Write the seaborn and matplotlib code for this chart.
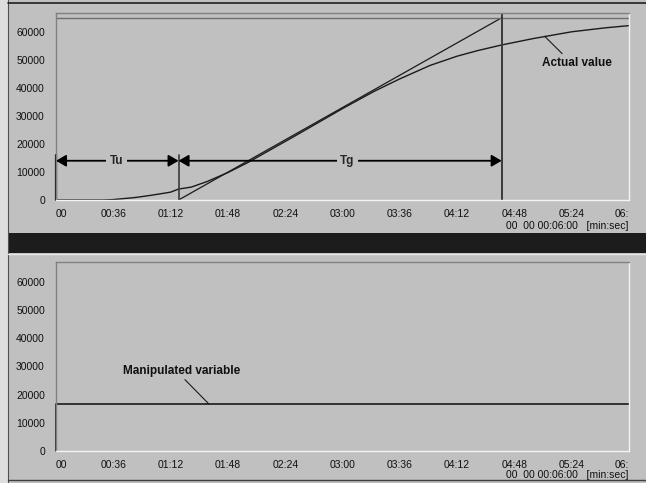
import matplotlib
matplotlib.use("Agg")
import matplotlib.pyplot as plt
from matplotlib.patches import Rectangle
from matplotlib.lines import Line2D
import seaborn as sns
import pandas as pd

# ---------------- data ----------------
time_s = [0, 20, 30, 36, 50, 60, 72, 77, 85, 95, 108, 120, 135, 150, 165, 180,
          200, 216, 235, 252, 265, 280, 300, 324, 345, 360]
actual_value = [0, 0, 0, 150, 900, 1700, 2800, 3900, 4600, 6600, 9800, 13200,
                18000, 22800, 27700, 32600, 38800, 43200, 48000, 51300, 53300,
                55300, 57600, 60000, 61400, 62200]
tangent_t = [77, 280]
tangent_y = [0, 65000]
setpoint = 65000
manip_t = [0, 0, 360]
manip_y = [0, 16700, 16700]
tick_seconds = [0, 36, 72, 108, 144, 180, 216, 252, 288, 324, 360]
tick_labels = ["00", "00:36", "01:12", "01:48", "02:24", "03:00", "03:36",
               "04:12", "04:48", "05:24", "06:"]
y_ticks = [0, 10000, 20000, 30000, 40000, 50000, 60000]
tu_end = 77
tg_end = 280
marker_level = 16000
arrow_level = 14000

# ---------------- style ----------------
BG = "#c0c0c0"
sns.set_theme(style="white")
plt.rcParams["font.family"] = ["Liberation Sans", "DejaVu Sans"]
plt.rcParams["axes.facecolor"] = BG
plt.rcParams["figure.facecolor"] = BG

W, H = 646, 483
fig = plt.figure(figsize=(W / 100, H / 100), dpi=100)


def fx(px):
    return px / W


def fy(py):
    return 1 - py / H


def frame_axes(left, top, right, bottom, ytop):
    ax = fig.add_axes([fx(left), fy(bottom), fx(right - left), (bottom - top) / H])
    ax.set_facecolor(BG)
    ax.set_xlim(0, 360)
    ax.set_ylim(0, ytop)
    for s in ["top", "left"]:
        ax.spines[s].set_color("#808080")
        ax.spines[s].set_linewidth(1.0)
    for s in ["bottom", "right"]:
        ax.spines[s].set_color("#f4f4f4")
        ax.spines[s].set_linewidth(1.0)
    ax.set_xticks(tick_seconds)
    ax.set_xticklabels(tick_labels)
    ax.set_yticks(y_ticks)
    ax.set_yticklabels([str(v) for v in y_ticks])
    ax.tick_params(axis="x", direction="out", length=3, width=0.8, color="#e8e8e8",
                   pad=3.5, labelsize=7.5, labelcolor="#101010")
    ax.tick_params(axis="y", direction="out", length=3, width=0.8, color="#e8e8e8",
                   pad=5, labelsize=7.5, labelcolor="#101010")
    lbls = ax.get_xticklabels()
    lbls[0].set_ha("left")
    lbls[-1].set_ha("right")
    ax.set_xlabel("")
    ax.set_ylabel("")
    return ax


# ---------------- window decorations ----------------
fig.add_artist(Rectangle((0, 0), fx(8), 1, transform=fig.transFigure,
                         facecolor="#dedede", edgecolor="none", zorder=0))
fig.add_artist(Line2D([fx(8), fx(8)], [0, 1], transform=fig.transFigure,
                      color="#505050", lw=0.8))
fig.add_artist(Line2D([fx(8), 1], [fy(3), fy(3)], transform=fig.transFigure,
                      color="#202020", lw=1.2))
fig.add_artist(Rectangle((fx(8), fy(253)), 1, (253 - 233) / H, transform=fig.transFigure,
                         facecolor="#1c1c1c", edgecolor="none"))
fig.add_artist(Line2D([fx(8), 1], [fy(254), fy(254)], transform=fig.transFigure,
                      color="#e6e6e6", lw=1.0))
fig.add_artist(Line2D([fx(8), 1], [fy(480), fy(480)], transform=fig.transFigure,
                      color="#404040", lw=1.0))

# ---------------- top panel ----------------
ax1 = frame_axes(56, 13, 629, 200, 66700)
df_act = pd.DataFrame({"t": time_s, "v": actual_value})
sns.lineplot(data=df_act, x="t", y="v", ax=ax1, color="#1a1a1a", lw=1.0, clip_on=False)
sns.lineplot(x=tangent_t, y=tangent_y, ax=ax1, color="#1a1a1a", lw=0.9)
ax1.axhline(setpoint, color="#6e6e6e", lw=1.0)
ax1.plot([tg_end, tg_end], [0, 66700], color="#3a3a3a", lw=1.4)
ax1.plot([tu_end, tu_end], [0, marker_level], color="#3a3a3a", lw=1.2)
ax1.plot([0, 0], [0, marker_level], color="#1a1a1a", lw=1.6, clip_on=False)
ax1.set_xlabel("")
ax1.set_ylabel("")

arrow_kw = dict(arrowstyle="<|-|>,head_length=0.6,head_width=0.35", color="black",
                lw=1.3, shrinkA=0, shrinkB=0, mutation_scale=10)
ax1.annotate("", xy=(0, arrow_level), xytext=(tu_end, arrow_level),
             arrowprops=arrow_kw, annotation_clip=False)
ax1.annotate("", xy=(tu_end, arrow_level), xytext=(tg_end, arrow_level),
             arrowprops=arrow_kw)
box = dict(facecolor=BG, edgecolor="none", pad=2.5)
ax1.text(38, arrow_level, "Tu", ha="center", va="center", fontsize=8.5,
         fontweight="bold", bbox=box, zorder=5)
ax1.text(183, arrow_level, "Tg", ha="center", va="center", fontsize=8.5,
         fontweight="bold", bbox=box, zorder=5)

ax1.plot([307, 318], [58400, 52200], color="#1a1a1a", lw=0.8)
ax1.text(327, 49000, "Actual value", ha="center", va="center", fontsize=8.5,
         fontweight="bold", color="#101010")

# ---------------- bottom panel ----------------
ax2 = frame_axes(56, 262, 629, 451, 67000)
sns.lineplot(x=manip_t, y=manip_y, ax=ax2, color="#1a1a1a", lw=1.2, sort=False,
             estimator=None, clip_on=False)
ax2.set_xlabel("")
ax2.set_ylabel("")
ax2.plot([81, 96], [25300, 16700], color="#1a1a1a", lw=0.8)
ax2.text(79, 28300, "Manipulated variable", ha="center", va="center", fontsize=8.5,
         fontweight="bold", color="#101010")

# time-base captions
for py in (226, 475):
    fig.text(fx(628), fy(py), "00  00 00:06:00   [min:sec]", ha="right", va="center",
             fontsize=7.5, color="#101010")

fig.savefig("out.png", dpi=100, facecolor=BG)
